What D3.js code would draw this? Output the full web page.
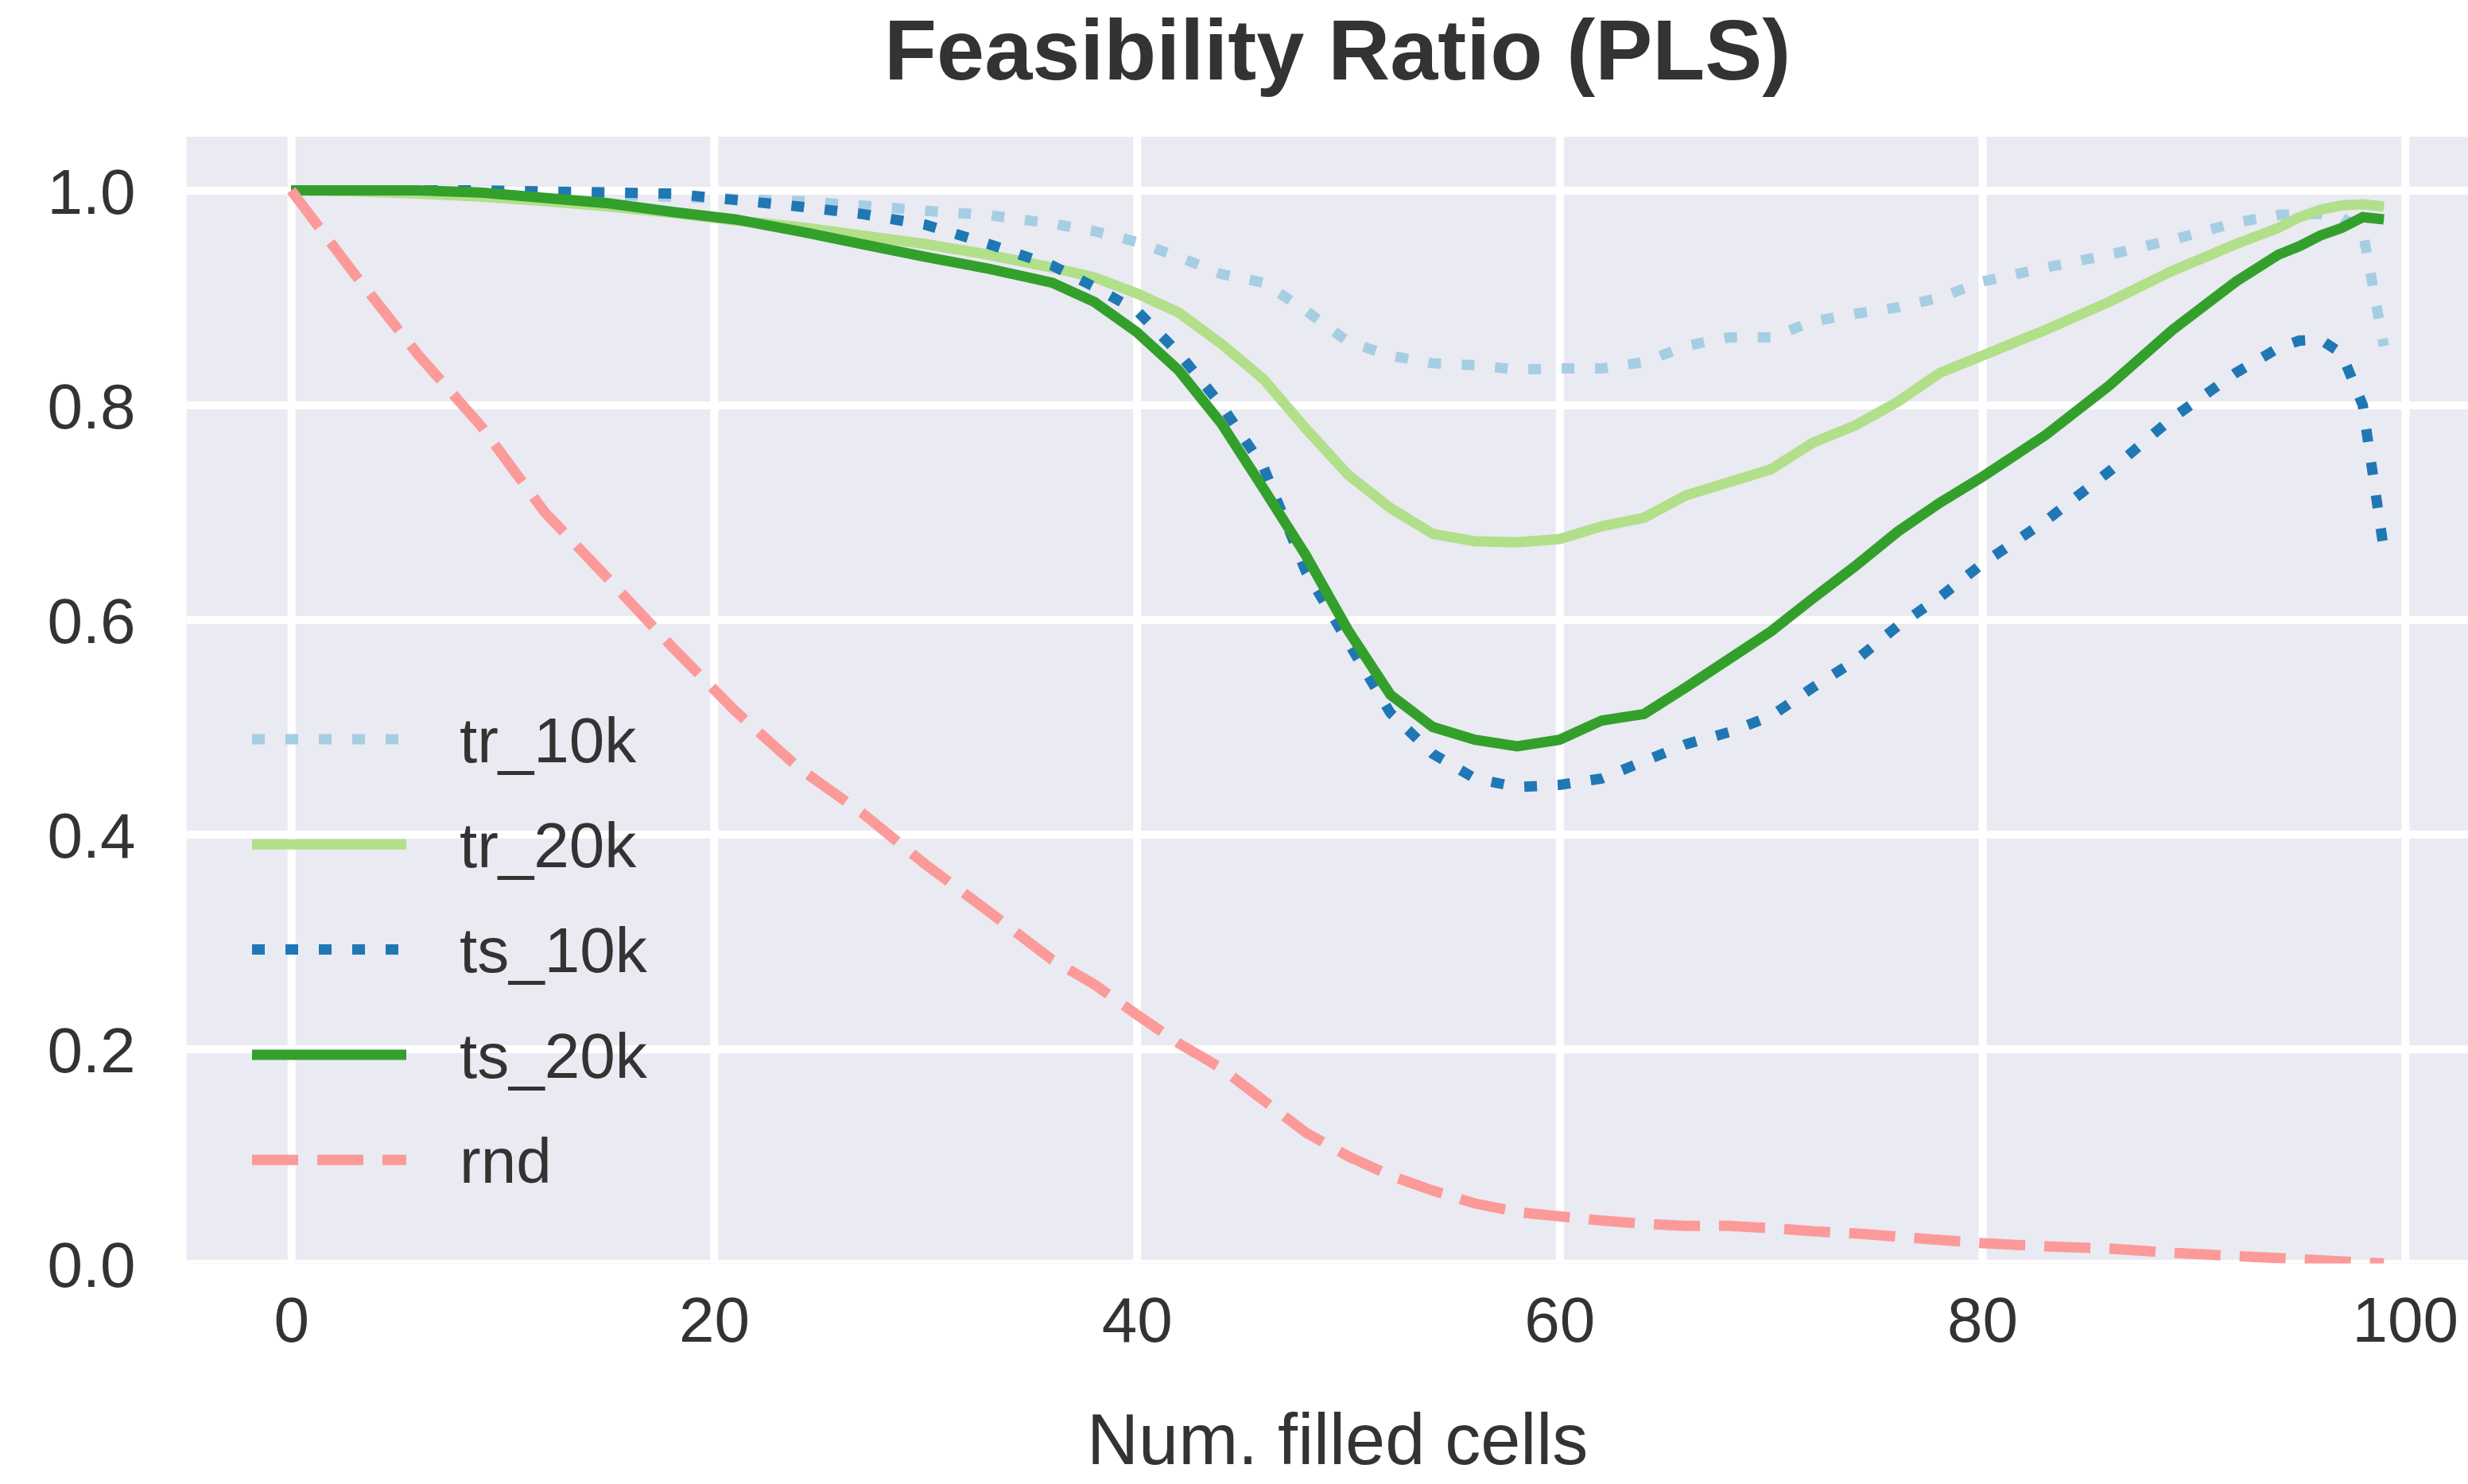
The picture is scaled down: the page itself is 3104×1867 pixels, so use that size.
<!DOCTYPE html>
<html>
<head>
<meta charset="utf-8">
<script src="https://cdn.jsdelivr.net/npm/d3@7"></script>
<style>
    html, body { margin: 0; padding: 0; background: #fff; }
    text { font-family: "Liberation Sans", Arial, sans-serif; fill: #333; }
</style>
</head>
<body>
<script>
// number of filled cells (shared by every series)
const cells = [0, 3, 6, 9, 12, 15, 18, 21, 24, 27, 30, 33, 36, 38, 40, 42, 44, 46, 48, 50,
    52, 54, 56, 58, 60, 62, 64, 66, 68, 70, 72, 74, 76, 78, 80, 83, 86, 89, 92, 94,
    95, 96, 97, 98, 99];

const tr10k = [1.0, 1.0, 1.0, 0.999, 0.998, 0.996, 0.994, 0.992, 0.99, 0.986, 0.981, 0.977, 0.969, 0.962, 0.952, 0.938, 0.922, 0.914, 0.888, 0.859,
    0.846, 0.839, 0.837, 0.833, 0.834, 0.834, 0.84, 0.855, 0.863, 0.863, 0.878, 0.885, 0.891, 0.9, 0.915, 0.928, 0.94, 0.954, 0.97, 0.977,
    0.978, 0.978, 0.975, 0.962, 0.855];

const tr20k = [1.0, 0.999, 0.997, 0.994, 0.99, 0.985, 0.979, 0.972, 0.966, 0.958, 0.95, 0.94, 0.928, 0.919, 0.904, 0.886, 0.857, 0.824, 0.778, 0.735,
    0.704, 0.68, 0.673, 0.672, 0.675, 0.687, 0.695, 0.716, 0.728, 0.74, 0.765, 0.781, 0.803, 0.83, 0.846, 0.87, 0.896, 0.925, 0.95, 0.965,
    0.975, 0.982, 0.986, 0.987, 0.985];

const ts10k = [1.0, 1.0, 1.0, 1.0, 0.999, 0.998, 0.997, 0.991, 0.985, 0.978, 0.968, 0.95, 0.93, 0.91, 0.888, 0.848, 0.8, 0.742, 0.645, 0.579,
    0.513, 0.475, 0.452, 0.444, 0.446, 0.452, 0.468, 0.484, 0.495, 0.51, 0.537, 0.562, 0.594, 0.621, 0.652, 0.692, 0.738, 0.788, 0.83, 0.853,
    0.86, 0.861, 0.848, 0.8, 0.665];

const ts20k = [1.0, 1.0, 1.0, 0.998, 0.993, 0.988, 0.98, 0.973, 0.962, 0.95, 0.938, 0.927, 0.914, 0.896, 0.868, 0.832, 0.783, 0.722, 0.66, 0.59,
    0.53, 0.5, 0.488, 0.482, 0.488, 0.506, 0.512, 0.537, 0.563, 0.589, 0.62, 0.65, 0.682, 0.709, 0.733, 0.772, 0.818, 0.87, 0.915, 0.94,
    0.948, 0.958, 0.965, 0.975, 0.973];

const rnd = [1.0, 0.922, 0.847, 0.78, 0.70, 0.638, 0.575, 0.515, 0.462, 0.42, 0.372, 0.328, 0.283, 0.26, 0.232, 0.205, 0.182, 0.152, 0.122, 0.10,
    0.082, 0.068, 0.056, 0.048, 0.044, 0.04, 0.037, 0.035, 0.035, 0.033, 0.03, 0.028, 0.025, 0.022, 0.019, 0.016, 0.014, 0.01, 0.007, 0.005,
    0.004, 0.003, 0.002, 0.001, 0.0];

const seriesNames = ["tr_10k", "tr_20k", "ts_10k", "ts_20k", "rnd"];
const seriesValues = [tr10k, tr20k, ts10k, ts20k, rnd];
const seriesColours = ["#a6cee3", "#b2df8a", "#1f78b4", "#33a02c", "#fb9a99"];
const seriesDashes = ["16 26", null, "16 26", null, "58 24"];

const xTicks = [0, 20, 40, 60, 80, 100];
const yTicks = [0.0, 0.2, 0.4, 0.6, 0.8, 1.0];

const W = 3104, H = 1867;
const margin = {left: 234.6, right: -25.8, top: 172, bottom: 277.4},
    width = W - margin.left - margin.right,
    height = H - margin.top - margin.bottom;

const svg = d3.select("body").append("svg")
    .attr("width", W)
    .attr("height", H)
    .attr("viewBox", `0 0 ${W} ${H}`);

svg.append("rect").attr("width", W).attr("height", H).attr("fill", "#fff");

const g = svg.append("g")
    .attr("transform", `translate(${margin.left},${margin.top})`);

const x = d3.scaleLinear().domain([-4.95, 103.95]).range([0, width]);
const y = d3.scaleLinear().domain([0, 1.05]).range([height, 0]);

g.append("rect")
    .attr("width", width)
    .attr("height", height)
    .attr("fill", "#eaeaf2");

g.append("clipPath")
    .attr("id", "clip")
    .append("rect")
    .attr("width", width)
    .attr("height", height);

// grid
const gridX = g.append("g")
    .attr("clip-path", "url(#clip)")
    .call(d3.axisBottom(x).tickValues(xTicks).tickSize(height).tickFormat(""));
const gridY = g.append("g")
    .attr("clip-path", "url(#clip)")
    .call(d3.axisLeft(y).tickValues(yTicks).tickSize(-width).tickFormat(""));
[gridX, gridY].forEach(a => {
    a.select(".domain").remove();
    a.selectAll("line").attr("stroke", "#fff").attr("stroke-width", 10);
});

// tick labels
const xAxis = g.append("g")
    .attr("transform", `translate(0,${height})`)
    .call(d3.axisBottom(x).tickValues(xTicks).tickSize(0).tickPadding(70).tickFormat(d3.format("d")));
const yAxis = g.append("g")
    .call(d3.axisLeft(y).tickValues(yTicks).tickSize(0).tickPadding(64).tickFormat(d3.format(".1f")));
[xAxis, yAxis].forEach(a => {
    a.select(".domain").remove();
    a.selectAll("text")
        .attr("font-size", 80)
        .attr("font-family", "\"Liberation Sans\", Arial, sans-serif")
        .attr("fill", "#333");
});
yAxis.selectAll("text").attr("dy", "0.36em");
xAxis.selectAll("text").attr("dy", "0.36em");

// lines
const line = d3.line()
    .x((d, i) => x(cells[i]))
    .y(d => y(d));

g.append("g")
    .attr("clip-path", "url(#clip)")
    .selectAll("path")
    .data(seriesValues)
    .enter()
    .append("path")
    .attr("d", line)
    .attr("fill", "none")
    .attr("stroke", (d, i) => seriesColours[i])
    .attr("stroke-width", 13)
    .attr("stroke-dasharray", (d, i) => seriesDashes[i]);

// legend
const legend = svg.append("g");
const rowY = i => 930 + i * 132.3;
legend.selectAll("line")
    .data(seriesNames)
    .enter()
    .append("line")
    .attr("x1", 317)
    .attr("x2", 511)
    .attr("y1", (d, i) => rowY(i))
    .attr("y2", (d, i) => rowY(i))
    .attr("stroke", (d, i) => seriesColours[i])
    .attr("stroke-width", 13)
    .attr("stroke-dasharray", (d, i) => seriesDashes[i]);
legend.selectAll("text")
    .data(seriesNames)
    .enter()
    .append("text")
    .attr("x", 578)
    .attr("y", (d, i) => rowY(i))
    .attr("dy", "0.36em")
    .attr("font-size", 80)
    .text(d => d);

// title and axis label
svg.append("text")
    .attr("x", margin.left + width / 2)
    .attr("y", 100)
    .attr("text-anchor", "middle")
    .attr("font-size", 108)
    .attr("font-weight", "bold")
    .text("Feasibility Ratio (PLS)");

svg.append("text")
    .attr("x", margin.left + width / 2)
    .attr("y", 1842)
    .attr("text-anchor", "middle")
    .attr("font-size", 90)
    .text("Num. filled cells");
</script>
</body>
</html>
